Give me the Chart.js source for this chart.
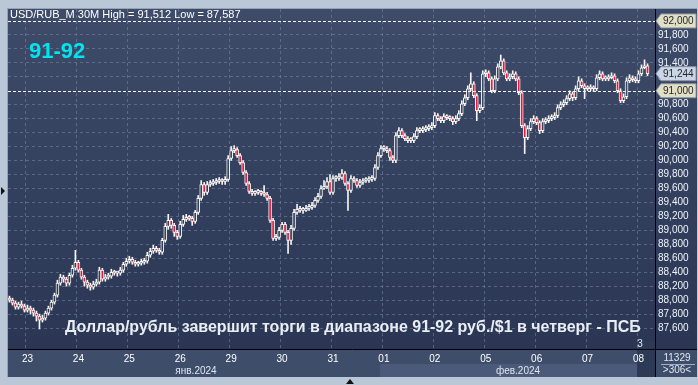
<!DOCTYPE html>
<html lang="ru">
<head>
<meta charset="UTF-8">
<script src="https://cdn.jsdelivr.net/npm/chart.js@4.4.1/dist/chart.umd.min.js"></script>
<style>
  html, body { margin: 0; padding: 0; background: #b9c7d7; }
  canvas { display: block; }
</style>
</head>
<body>
<canvas id="chart" width="698" height="385"></canvas>
<script>
// 30-minute candles USD/RUB_M, 22.01.2024 - 08.02.2024
const opens = [
  88.030,88.000,87.957,87.900,87.943,87.914,87.857,87.886,87.857,87.814,
  87.771,87.714,87.743,87.814,87.886,87.971,88.071,88.243,88.329,88.300,
  88.243,88.357,88.457,88.543,88.429,88.329,88.257,88.214,88.186,88.229,
  88.257,88.429,88.300,88.329,88.343,88.400,88.386,88.386,88.429,88.514,
  88.557,88.586,88.543,88.514,88.529,88.543,88.557,88.643,88.700,88.743,
  88.714,88.686,88.857,89.057,89.143,89.071,88.971,88.914,89.086,89.157,
  89.186,89.171,89.129,89.257,89.457,89.657,89.543,89.657,89.671,89.686,
  89.700,89.714,89.700,89.729,90.029,90.143,90.157,90.071,89.971,89.829,
  89.671,89.557,89.529,89.543,89.543,89.529,89.514,89.457,89.143,88.886,
  88.900,89.000,89.086,88.971,88.857,89.029,89.257,89.300,89.286,89.286,
  89.314,89.329,89.357,89.429,89.486,89.600,89.629,89.700,89.543,89.743,
  89.743,89.757,89.814,89.671,89.571,89.743,89.714,89.643,89.686,89.714,
  89.714,89.729,89.743,89.900,90.071,90.171,90.171,90.143,90.043,90.000,
  90.357,90.429,90.357,90.314,90.286,90.286,90.343,90.429,90.429,90.443,
  90.457,90.471,90.500,90.643,90.600,90.571,90.629,90.614,90.600,90.557,
  90.600,90.671,90.814,90.900,91.029,91.100,90.929,90.714,90.757,91.243,
  91.257,91.171,91.000,91.171,91.343,91.429,91.257,91.171,91.200,91.243,
  91.171,90.971,90.500,90.329,90.457,90.557,90.600,90.543,90.429,90.557,
  90.571,90.600,90.614,90.643,90.757,90.800,90.829,90.886,90.957,90.900,
  91.029,91.143,91.071,91.029,91.029,91.043,91.029,91.186,91.243,91.171,
  91.171,91.186,91.214,91.143,91.000,90.857,90.914,91.143,91.186,91.157,
  91.143,91.243,91.329,91.357
];
const highs = [
  88.057,88.029,87.986,87.971,87.986,87.943,87.929,87.914,87.886,87.843,
  87.800,87.786,87.843,87.914,88.000,88.100,88.286,88.371,88.357,88.329,
  88.386,88.500,88.714,88.571,88.457,88.357,88.286,88.243,88.271,88.300,
  88.471,88.457,88.371,88.386,88.443,88.429,88.414,88.471,88.543,88.600,
  88.629,88.614,88.571,88.557,88.586,88.600,88.686,88.743,88.786,88.771,
  88.743,88.886,89.100,89.229,89.171,89.100,89.000,89.129,89.214,89.229,
  89.214,89.200,89.286,89.500,89.714,89.686,89.700,89.714,89.729,89.743,
  89.757,89.743,89.771,90.071,90.200,90.214,90.186,90.100,90.000,89.857,
  89.700,89.586,89.571,89.586,89.571,89.643,89.543,89.486,89.171,88.943,
  89.043,89.114,89.114,89.000,89.071,89.300,89.371,89.343,89.329,89.357,
  89.371,89.400,89.471,89.529,89.643,89.714,89.757,89.800,89.786,89.786,
  89.814,89.871,89.843,89.700,89.786,89.771,89.743,89.729,89.743,89.757,
  89.771,89.786,89.943,90.114,90.214,90.214,90.200,90.171,90.071,90.400,
  90.471,90.457,90.386,90.343,90.329,90.386,90.471,90.471,90.486,90.500,
  90.514,90.543,90.686,90.671,90.629,90.671,90.657,90.643,90.629,90.643,
  90.714,90.857,90.943,91.071,91.257,91.129,90.957,90.800,91.286,91.300,
  91.286,91.200,91.214,91.386,91.512,91.457,91.286,91.243,91.286,91.271,
  91.200,91.000,90.529,90.500,90.600,90.643,90.629,90.571,90.600,90.614,
  90.643,90.657,90.686,90.800,90.843,90.871,90.929,91.000,90.986,91.071,
  91.200,91.171,91.100,91.071,91.086,91.071,91.229,91.286,91.271,91.214,
  91.229,91.257,91.243,91.171,91.029,90.957,91.186,91.229,91.214,91.200,
  91.286,91.371,91.443,91.386
];
const lows = [
  87.971,87.929,87.871,87.871,87.886,87.829,87.829,87.800,87.771,87.700,
  87.587,87.686,87.714,87.786,87.857,87.943,88.043,88.214,88.257,88.200,
  88.214,88.329,88.429,88.400,88.300,88.200,88.171,88.143,88.157,88.200,
  88.229,88.271,88.271,88.300,88.314,88.357,88.343,88.357,88.400,88.486,
  88.529,88.514,88.486,88.486,88.500,88.514,88.529,88.614,88.671,88.686,
  88.657,88.657,88.829,89.014,89.029,88.914,88.871,88.886,89.057,89.129,
  89.143,89.071,89.100,89.229,89.429,89.500,89.514,89.629,89.643,89.657,
  89.671,89.657,89.657,89.700,90.000,90.114,90.043,89.943,89.800,89.643,
  89.529,89.500,89.500,89.514,89.500,89.486,89.429,89.114,88.857,88.857,
  88.871,88.971,88.943,88.671,88.800,89.000,89.229,89.257,89.243,89.271,
  89.286,89.300,89.329,89.400,89.457,89.586,89.600,89.514,89.514,89.700,
  89.714,89.729,89.643,89.286,89.543,89.686,89.614,89.614,89.657,89.686,
  89.686,89.700,89.714,89.871,90.043,90.129,90.114,90.000,89.971,89.971,
  90.329,90.329,90.286,90.257,90.257,90.257,90.314,90.400,90.400,90.414,
  90.429,90.443,90.471,90.571,90.543,90.543,90.586,90.571,90.514,90.529,
  90.571,90.643,90.786,90.871,91.000,90.900,90.571,90.686,90.729,91.200,
  91.143,90.971,90.971,91.143,91.314,91.229,91.143,91.143,91.171,91.143,
  90.943,90.471,90.100,90.300,90.429,90.529,90.514,90.386,90.400,90.529,
  90.543,90.571,90.586,90.614,90.729,90.771,90.800,90.857,90.857,90.871,
  91.000,91.043,90.886,91.000,91.000,90.986,91.000,91.157,91.143,91.143,
  91.143,91.171,91.114,90.971,90.829,90.829,90.886,91.114,91.129,91.114,
  91.114,91.214,91.314,91.214
];
const closes = [
  88.000,87.957,87.900,87.943,87.914,87.857,87.886,87.857,87.814,87.771,
  87.714,87.743,87.814,87.886,87.971,88.071,88.243,88.329,88.300,88.243,
  88.357,88.457,88.543,88.429,88.329,88.257,88.214,88.186,88.229,88.257,
  88.429,88.300,88.329,88.343,88.400,88.386,88.386,88.429,88.514,88.557,
  88.586,88.543,88.514,88.529,88.543,88.557,88.643,88.700,88.743,88.714,
  88.686,88.857,89.057,89.143,89.071,88.971,88.914,89.086,89.157,89.186,
  89.171,89.129,89.257,89.457,89.657,89.543,89.657,89.671,89.686,89.700,
  89.714,89.700,89.729,90.029,90.143,90.157,90.071,89.971,89.829,89.671,
  89.557,89.529,89.543,89.543,89.529,89.514,89.457,89.143,88.886,88.900,
  89.000,89.086,88.971,88.857,89.029,89.257,89.300,89.286,89.286,89.314,
  89.329,89.357,89.429,89.486,89.600,89.629,89.700,89.543,89.743,89.743,
  89.757,89.814,89.671,89.571,89.743,89.714,89.643,89.686,89.714,89.714,
  89.729,89.743,89.900,90.071,90.171,90.171,90.143,90.043,90.000,90.357,
  90.429,90.357,90.314,90.286,90.286,90.343,90.429,90.429,90.443,90.457,
  90.471,90.500,90.643,90.600,90.571,90.629,90.614,90.600,90.557,90.600,
  90.671,90.814,90.900,91.029,91.100,90.929,90.714,90.757,91.243,91.257,
  91.171,91.000,91.171,91.343,91.429,91.257,91.171,91.200,91.243,91.171,
  90.971,90.500,90.329,90.457,90.557,90.600,90.543,90.429,90.557,90.571,
  90.600,90.614,90.643,90.757,90.800,90.829,90.886,90.957,90.900,91.029,
  91.143,91.071,91.029,91.029,91.043,91.029,91.186,91.243,91.171,91.171,
  91.186,91.214,91.143,91.000,90.857,90.914,91.143,91.186,91.157,91.143,
  91.243,91.329,91.357,91.244
];

// day labels on the time axis and the candle where each day starts
const dayLabels = ['23','24','25','26','29','30','31','01','02','05','06','07','08'];
const dayStart  = [6, 23, 40, 57, 74, 91, 108, 125, 142, 159, 176, 193, 210];
const yTicks = [87.6,87.8,88.0,88.2,88.4,88.6,88.8,89.0,89.2,89.4,89.6,89.8,90.0,90.2,90.4,90.6,90.8,91.2,91.4,91.6,91.8];
const levels = [92.0, 91.0];
const lastPrice = 91.244;

const slots = opens.length + 2;   // two empty slots on the right edge
const xLabels = [];
for (let i = 0; i < slots; i++) xLabels.push('');
dayStart.forEach((s, k) => { xLabels[s] = dayLabels[k]; });

const canvas = document.getElementById('chart');
const ctx = canvas.getContext('2d');
const plotGrad = ctx.createLinearGradient(0, 8, 0, 349);
plotGrad.addColorStop(0, '#3e4c69');
plotGrad.addColorStop(1, '#2a3653');

const RED = '#e8173f';
const FONT = '"Liberation Sans", Arial, sans-serif';
const gridColor = 'rgba(118,136,168,0.55)';

function fmt(v) { return v.toFixed(3).replace('.', ','); }

function tag(c, y, text, fill) {
  c.beginPath();
  c.moveTo(656, y);
  c.lineTo(661, y - 7);
  c.lineTo(696, y - 7);
  c.lineTo(696, y + 7);
  c.lineTo(661, y + 7);
  c.closePath();
  c.fillStyle = fill;
  c.fill();
  c.strokeStyle = '#8a93a6';
  c.lineWidth = 1;
  c.stroke();
  c.fillStyle = '#1c2033';
  c.font = '10px ' + FONT;
  c.textAlign = 'left';
  c.textBaseline = 'middle';
  c.fillText(text, 663, y + 0.5);
}

const frame = {
  id: 'frame',
  beforeDraw(chart) {
    const c = chart.ctx, a = chart.chartArea;
    c.save();
    c.fillStyle = '#b9c7d7';
    c.fillRect(0, 0, 698, 385);
    c.fillStyle = '#93a4b8';
    c.fillRect(a.left - 1, a.top - 1, 698 - a.left, 378 - a.top);
    c.fillStyle = plotGrad;
    c.fillRect(a.left, a.top, 697 - a.left, a.bottom - a.top);
    // time axis panel
    c.fillStyle = '#3e4d6a';
    c.fillRect(a.left, a.bottom, 697 - a.left, 28);
    c.fillStyle = '#4a5a78';
    c.fillRect(380, a.bottom + 15, 257, 13);
    c.fillStyle = '#2d3a55';
    c.fillRect(637, a.bottom - 8, 18, 36);
    c.restore();
  },
  afterDraw(chart) {
    const c = chart.ctx, a = chart.chartArea, y = chart.scales.y;
    c.save();
    // level lines
    c.strokeStyle = '#f4f4f4';
    c.lineWidth = 1;
    c.setLineDash([3, 2]);
    levels.forEach(v => {
      const py = Math.round(y.getPixelForValue(v)) + 0.5;
      c.beginPath(); c.moveTo(a.left, py); c.lineTo(a.right, py); c.stroke();
    });
    c.setLineDash([]);
    // panel separators
    c.strokeStyle = '#000';
    c.beginPath();
    c.moveTo(655.5, a.top); c.lineTo(655.5, a.bottom + 28);
    c.moveTo(a.left, a.bottom + 0.5); c.lineTo(697, a.bottom + 0.5);
    c.stroke();

    // price tags
    tag(c, y.getPixelForValue(92.0), fmt(92.0), '#e2e0c2');
    tag(c, y.getPixelForValue(lastPrice), fmt(lastPrice), '#cbd5e4');
    tag(c, y.getPixelForValue(91.0), fmt(91.0), '#e2e0c2');

    // header
    c.fillStyle = '#ffffff';
    c.textAlign = 'left';
    c.textBaseline = 'alphabetic';
    c.font = '11px ' + FONT;
    c.fillText('USD/RUB_M 30M High = 91,512 Low = 87,587', 10, 18);

    c.fillStyle = '#00e4ef';
    c.font = 'bold 22px ' + FONT;
    c.fillText('91-92', 29, 58);

    // caption
    const cap = 'Доллар/рубль завершит торги в диапазоне 91-92 руб./$1 в четверг - ПСБ';
    c.font = 'bold 16px ' + FONT;
    const size = 16 * 576 / c.measureText(cap).width;
    c.font = 'bold ' + size.toFixed(2) + 'px ' + FONT;
    c.fillStyle = '#e9eef5';
    c.fillText(cap, 65, 332);

    // months
    c.font = '10px ' + FONT;
    c.fillStyle = '#dfe6f0';
    c.textAlign = 'center';
    c.fillText('янв.2024', 196, 374);
    c.fillText('фев.2024', 518, 374);
    c.fillText('3', 640, 347);

    // bottom-right box
    c.fillText('11329', 677, 361);
    c.fillText('>306<', 677, 373);
    c.strokeStyle = '#9fb0c8';
    c.beginPath(); c.moveTo(661, 364.5); c.lineTo(695, 364.5); c.stroke();

    // small markers on the frame
    c.fillStyle = '#111';
    c.beginPath(); c.moveTo(1, 187); c.lineTo(5, 191); c.lineTo(1, 195); c.closePath(); c.fill();
    c.beginPath(); c.moveTo(346, 384); c.lineTo(350, 379); c.lineTo(354, 384); c.closePath(); c.fill();
    c.restore();
  }
};

new Chart(ctx, {
  type: 'bar',
  data: {
    labels: xLabels,
    datasets: [
      {
        data: opens.map((o, i) => [o, closes[i]]),
        backgroundColor: c => closes[c.dataIndex] < opens[c.dataIndex] ? RED : plotGrad,
        borderColor: '#f6f3f0',
        borderWidth: 1,
        borderSkipped: false,
        barThickness: 3,
        minBarLength: 2,
        grouped: false,
        order: 0
      },
      {
        data: highs.map((h, i) => [lows[i], h]),
        backgroundColor: '#f6f3f0',
        barThickness: 1,
        grouped: false,
        order: 1
      }
    ]
  },
  options: {
    responsive: false,
    animation: false,
    layout: { padding: { left: 8, top: 8, right: 1, bottom: 8 } },
    plugins: { legend: { display: false }, tooltip: { enabled: false } },
    scales: {
      x: {
        offset: true,
        grid: {
          offset: true,
          drawTicks: false,
          color: c => (xLabels[c.index] ? gridColor : 'rgba(0,0,0,0)')
        },
        border: { display: false, dash: [3, 3] },
        ticks: {
          autoSkip: false,
          maxRotation: 0,
          padding: 4,
          color: '#ffffff',
          font: { size: 10, family: FONT },
          callback: (v, i) => xLabels[i]
        },
        afterFit: s => { s.height = 28; }
      },
      y: {
        position: 'right',
        min: 87.30,
        max: 92.171,
        afterBuildTicks: s => { s.ticks = yTicks.map(v => ({ value: v })); },
        grid: { drawTicks: false, color: gridColor },
        border: { display: false, dash: [3, 3] },
        ticks: {
          padding: 3,
          color: '#eef3fb',
          font: { size: 10, family: FONT },
          callback: v => fmt(v)
        },
        afterFit: s => { s.width = 42; }
      }
    }
  },
  plugins: [frame]
});
</script>
</body>
</html>
